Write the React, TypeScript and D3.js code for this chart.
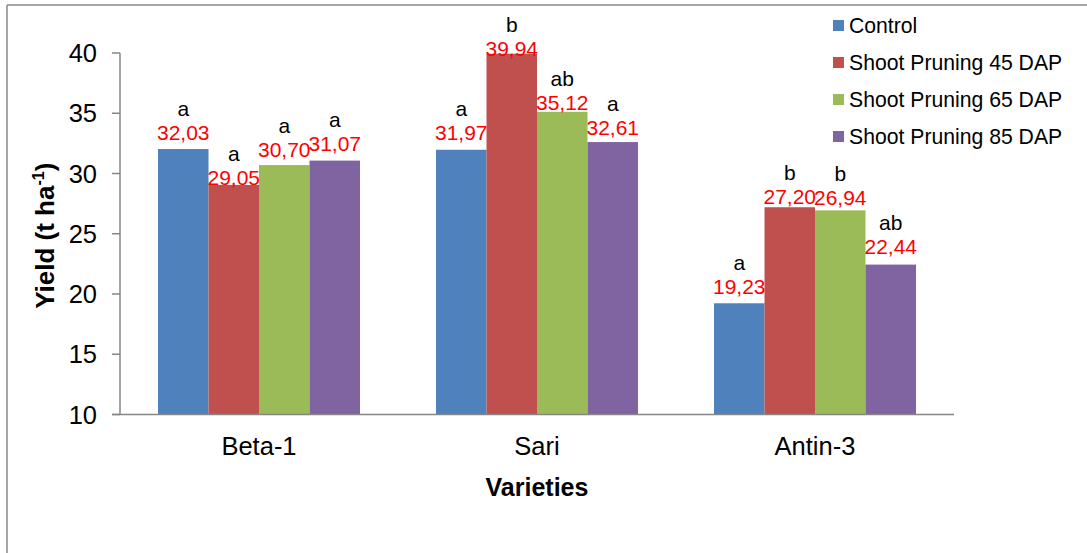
import React from "react";
import * as d3 from "d3";

const categories = ["Beta-1", "Sari", "Antin-3"];
const seriesNames = [
  "Control",
  "Shoot Pruning 45 DAP",
  "Shoot Pruning 65 DAP",
  "Shoot Pruning 85 DAP",
];
// values per series, in category order
const control = [32.03, 31.97, 19.23];
const prune45 = [29.05, 39.94, 27.2];
const prune65 = [30.7, 35.12, 26.94];
const prune85 = [31.07, 32.61, 22.44];
// significance letters per series, in category order
const lettersControl = ["a", "a", "a"];
const letters45 = ["a", "b", "b"];
const letters65 = ["a", "ab", "b"];
const letters85 = ["a", "a", "ab"];
const yTicks = [10, 15, 20, 25, 30, 35, 40];

const seriesValues = [control, prune45, prune65, prune85];
const seriesLetters = [lettersControl, letters45, letters65, letters85];
const colors = ["#4F81BD", "#C0504D", "#9BBB59", "#8064A2"];
// label centre offsets above bar tops (layout nudges, series x category)
const labelNudge = [
  [-17, -17, -17],
  [-7, -5, -11],
  [-16, -9, -13],
  [-17, -15, -18],
];

const W = 1087;
const H = 553;
const plotLeft = 120;
const plotRight = 954;
const plotTop = 53;
const plotBottom = 414.5;
const FONT = "'Liberation Sans', Arial, sans-serif";

export default function App() {
  const y = d3.scaleLinear().domain([10, 40]).range([plotBottom, plotTop]);
  const x0 = d3
    .scaleBand<string>()
    .domain(categories)
    .range([plotLeft, plotRight])
    .paddingInner(0)
    .paddingOuter(0);
  const gw = x0.bandwidth();
  const x1 = d3
    .scaleBand<string>()
    .domain(seriesNames)
    .range([gw * 0.1367, gw * (1 - 0.1367)])
    .padding(0);

  return (
    <svg
      width={W}
      height={H}
      style={{ position: "absolute", left: 0, top: 0, background: "#fff" }}
      fontFamily={FONT}
    >
      {/* outer frame */}
      <line x1={7} y1={5} x2={W} y2={5} stroke="#8a8a8a" strokeWidth={1.5} />
      <line x1={7} y1={5} x2={7} y2={H} stroke="#8a8a8a" strokeWidth={1.5} />

      {/* bars */}
      {categories.map((c, ci) =>
        seriesNames.map((s, si) => {
          const v = seriesValues[si][ci];
          const bx = (x0(c) as number) + (x1(s) as number);
          const bw = x1.bandwidth();
          return (
            <rect
              key={c + s}
              x={bx}
              y={y(v)}
              width={bw}
              height={plotBottom - y(v)}
              fill={colors[si]}
            />
          );
        })
      )}

      {/* axes */}
      <line x1={plotLeft} y1={plotTop} x2={plotLeft} y2={plotBottom} stroke="#868686" strokeWidth={1.5} />
      <line x1={112} y1={plotBottom} x2={plotRight} y2={plotBottom} stroke="#868686" strokeWidth={1.5} />
      {yTicks.map((t) => (
        <g key={t}>
          <line x1={112} x2={plotLeft} y1={y(t)} y2={y(t)} stroke="#868686" strokeWidth={1.5} />
          <text x={97} y={y(t) + 9} textAnchor="end" fontSize={25.5} fill="#000">
            {t}
          </text>
        </g>
      ))}
      {categories.map((c) => (
        <text
          key={c}
          x={(x0(c) as number) + gw / 2}
          y={455}
          textAnchor="middle"
          fontSize={25.5}
          fill="#000"
        >
          {c}
        </text>
      ))}
      <text x={537} y={496} textAnchor="middle" fontSize={25} fontWeight="bold" fill="#000">
        Varieties
      </text>
      <text
        transform={`translate(54,${(plotTop + plotBottom) / 2 + 2}) rotate(-90)`}
        textAnchor="middle"
        fontSize={26}
        fontWeight="bold"
        fill="#000"
      >
        Yield (t ha
        <tspan fontSize={16} dy={-10}>-1</tspan>
        <tspan dy={10}>)</tspan>
      </text>

      {/* data labels */}
      {categories.map((c, ci) =>
        seriesNames.map((s, si) => {
          const v = seriesValues[si][ci];
          const cx = (x0(c) as number) + (x1(s) as number) + x1.bandwidth() / 2;
          const base = y(v) + labelNudge[si][ci] + 7.5;
          return (
            <g key={"l" + c + s}>
              <text x={cx} y={base} textAnchor="middle" fontSize={21} fill="#FF0000">
                {v.toFixed(2).replace(".", ",")}
              </text>
              <text x={cx} y={base - 24} textAnchor="middle" fontSize={21} fill="#000">
                {seriesLetters[si][ci]}
              </text>
            </g>
          );
        })
      )}

      {/* legend */}
      {seriesNames.map((s, i) => {
        const cy = 25.5 + i * 37;
        return (
          <g key={"lg" + s}>
            <rect x={833} y={cy - 5.5} width={11} height={11} fill={colors[i]} />
            <text x={849} y={cy + 7.5} fontSize={21.2} fill="#000">
              {s}
            </text>
          </g>
        );
      })}
    </svg>
  );
}
